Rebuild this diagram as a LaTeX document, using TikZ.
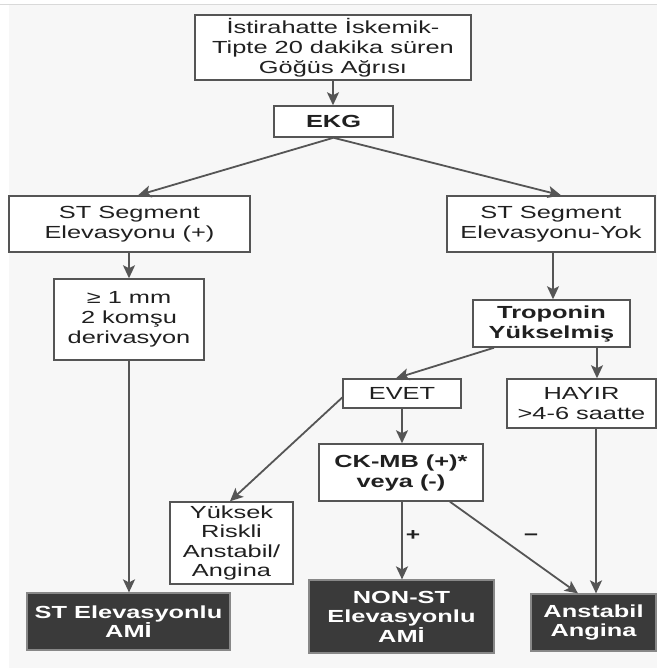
\documentclass[tikz,border=0pt]{standalone}
\usepackage{fontspec}
\setmainfont{Liberation Sans}[FakeStretch=1.45]
\usetikzlibrary{arrows.meta}
\definecolor{bgc}{HTML}{F7F7F7}
\definecolor{linec}{HTML}{555555}
\definecolor{txtc}{HTML}{202020}
\definecolor{darkc}{HTML}{3A3A3A}
\tikzset{
  box/.style={draw=linec, line width=1.5pt, fill=white, align=center, inner sep=0pt, text=txtc,
              font=\fontsize{17.5}{20}\selectfont},
  darkbox/.style={draw=linec!70, line width=1.2pt, fill=darkc, align=center, inner sep=0pt, text=white,
              font=\fontsize{17.5}{19.5}\selectfont\bfseries},
  arr/.style={draw=linec, line width=1.8pt, -{Stealth[length=13pt,width=12pt,inset=3pt]}},
  lbl/.style={text=txtc, font=\fontsize{17}{20}\selectfont\bfseries, inner sep=0pt}
}
\begin{document}
\begin{tikzpicture}[x=1pt,y=-1pt]
\useasboundingbox (0,0) rectangle (657,670);
\fill[white] (0,0) rectangle (657,670);
\fill[bgc] (9,4) rectangle (657,668);
\draw[black!15, line width=1pt] (0,4) -- (657,4);

\node[box, minimum width=276pt, minimum height=65pt] (top) at (333,47.5) {İstirahatte İskemik-\\Tipte 20 dakika süren\\Göğüs Ağrısı};
\node[box, minimum width=119pt, minimum height=31pt, font=\fontsize{17.5}{20}\selectfont\bfseries] (ekg) at (333.5,121.5) {EKG};
\node[box, minimum width=241pt, minimum height=56pt] (stp) at (129.5,224) {ST Segment\\Elevasyonu (+)};
\node[box, minimum width=208pt, minimum height=56pt] (sty) at (551,224) {ST Segment\\Elevasyonu-Yok};
\node[box, minimum width=150pt, minimum height=81pt] (mm) at (129,319.5) {≥ 1 mm\\2 komşu\\derivasyon};
\node[box, minimum width=157pt, minimum height=47pt, font=\fontsize{17.5}{20}\selectfont\bfseries] (trop) at (551.5,323.5) {Troponin\\Yükselmiş};
\node[box, minimum width=118pt, minimum height=29pt] (evet) at (402,393.5) {EVET};
\node[box, minimum width=149pt, minimum height=49pt] (hayir) at (581.5,403.5) {HAYIR\\>4-6 saatte};
\node[box, minimum width=164pt, minimum height=57pt, font=\fontsize{17.5}{20}\selectfont\bfseries] (ckmb) at (401,472.5) {CK-MB (+)*\\veya (-)};
\node[box, minimum width=123pt, minimum height=82pt, font=\fontsize{17.5}{19.3}\selectfont] (yuk) at (231.5,543) {Yüksek\\Riskli\\Anstabil/\\Angina};
\node[darkbox, minimum width=203pt, minimum height=57pt] (stami) at (128.5,621.5) {ST Elevasyonlu\\AMİ};
\node[darkbox, minimum width=185pt, minimum height=73pt] (nonst) at (401.5,616.5) {NON-ST\\Elevasyonlu\\AMİ};
\node[darkbox, minimum width=125pt, minimum height=57pt] (anst) at (593.5,622.5) {Anstabil\\Angina};

\draw[arr] (top.south) -- (top.south |- ekg.north);
\draw[arr] (ekg.south) -- ([xshift=8.5pt]stp.north);
\draw[arr] (ekg.south) -- ([xshift=10pt]sty.north);
\draw[arr] (mm.north |- stp.south) -- (mm.north);
\draw[arr] ([xshift=2pt]sty.south) -- ([xshift=1.5pt]trop.north);
\draw[arr] ([xshift=-57.5pt]trop.south) -- ([xshift=-6pt]evet.north);
\draw[arr] ([xshift=45.5pt]trop.south) -- ([xshift=15.5pt]hayir.north);
\draw[arr] (evet.south) -- (evet.south |- ckmb.north);
\draw[arr] ([yshift=-4pt]evet.west) -- ([xshift=-1.5pt]yuk.north);
\draw[arr] (mm.south) -- (mm.south |- stami.north);
\draw[arr] ([xshift=1pt]ckmb.south) -- ([xshift=1pt]ckmb.south |- nonst.north);
\draw[arr] ([xshift=49pt]ckmb.south) -- ([xshift=-15.5pt]anst.north);
\draw[arr] ([xshift=14.5pt]hayir.south) -- ([xshift=14.5pt]hayir.south |- anst.north);

\node[lbl] (plus) at (413,536) {+};
\node[lbl] (minus) at (531,537) {−};
\end{tikzpicture}
\end{document}
